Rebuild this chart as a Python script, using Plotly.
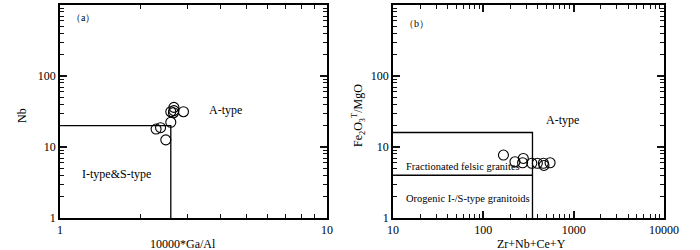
import plotly.graph_objects as go

# Panel (a): 10000*Ga/Al vs Nb
ga_al = [2.29, 2.38, 2.49, 2.60, 2.60, 2.67, 2.67, 2.66, 2.90]
nb = [17.9, 18.7, 12.6, 22.3, 31.4, 36.2, 32.5, 30.4, 31.4]

# Panel (b): Zr+Nb+Ce+Y vs Fe2O3T/MgO
zrnbcey = [167, 224, 277, 272, 344, 396, 462, 469, 548]
fe_mg = [7.7, 6.2, 6.9, 6.0, 5.9, 5.9, 5.9, 5.5, 6.0]

# Field boundaries
a_bound_x = [1, 2.6, 2.6]
a_bound_y = [20, 20, 1]
b_box_x = [10, 350, 350]
b_box_y = [16, 16, 1]
b_mid_x = [10, 350]
b_mid_y = [4, 4]

# Tick values
a_xticks = [1, 10]
ab_yticks = [1, 10, 100, 1000]
b_xticks = [10, 100, 1000, 10000]


def minors(lo_exp, hi_exp):
    return [m * 10 ** e for e in range(lo_exp, hi_exp) for m in range(2, 10)]


FONT = "Liberation Serif, Times New Roman, serif"
W, H = 700, 250
fig = go.Figure()

mk = dict(symbol="circle-open", size=10, color="black", line=dict(width=1.1))
lw = dict(color="black", width=1.3)
fig.add_trace(go.Scatter(x=a_bound_x, y=a_bound_y, mode="lines", line=lw, xaxis="x", yaxis="y", showlegend=False))
fig.add_trace(go.Scatter(x=ga_al, y=nb, mode="markers", marker=mk, xaxis="x", yaxis="y", showlegend=False))
fig.add_trace(go.Scatter(x=b_box_x, y=b_box_y, mode="lines", line=lw, xaxis="x2", yaxis="y2", showlegend=False))
fig.add_trace(go.Scatter(x=b_mid_x, y=b_mid_y, mode="lines", line=lw, xaxis="x2", yaxis="y2", showlegend=False))
fig.add_trace(go.Scatter(x=zrnbcey, y=fe_mg, mode="markers", marker=mk, xaxis="x2", yaxis="y2", showlegend=False))


def axis(rng, ticks, minor_vals, domain, anchor=None):
    d = dict(type="log", automargin=False, showgrid=False, zeroline=False, showline=True,
             linecolor="black", linewidth=1.5, mirror="ticks", ticks="inside", ticklen=7,
             tickwidth=1.5, tickcolor="#111111",
             tickfont=dict(family=FONT, size=12, color="black"),
             range=rng, tickmode="array", tickvals=ticks, ticktext=[str(t) for t in ticks],
             minor=dict(ticks="inside", ticklen=4, tickwidth=1.3, tickcolor="#111111", tickmode="array",
                        tickvals=minor_vals, showgrid=False),
             domain=domain)
    if anchor:
        d["anchor"] = anchor
    return d


yd = [1 - 218 / H, 1 - 5 / H]
fig.update_layout(
    width=W, height=H, margin=dict(l=0, r=0, t=0, b=0),
    paper_bgcolor="white", plot_bgcolor="white",
    font=dict(family=FONT, color="black"),
    xaxis=axis([0, 1], a_xticks, minors(0, 1), [60 / W, 327 / W]),
    yaxis=axis([0, 3], ab_yticks, minors(0, 3), yd),
    xaxis2=axis([1, 4], b_xticks, minors(1, 4), [393 / W, 664 / W], "y2"),
    yaxis2=axis([0, 3], ab_yticks, minors(0, 3), yd, "x2"),
)


def ann(text, x, y, ref, size=11, xanchor="left", angle=0):
    if ref == "paper":
        xr, yr = "paper", "paper"
    else:
        xr, yr = ref[0] + " domain", ref[1] + " domain"
    fig.add_annotation(text=text, x=x, y=y, xref=xr, yref=yr, textangle=angle,
                       showarrow=False, xanchor=xanchor, yanchor="middle",
                       font=dict(family=FONT, size=size, color="black"))


# Axis titles
ann("10000*Ga/Al", 183 / W, 1 - 244 / H, "paper", 12, "center")
ann("Nb", 22 / W, 1 - 116 / H, "paper", 12, "center", -90)
ann("Zr+Nb+Ce+Y", 531 / W, 1 - 244 / H, "paper", 12, "center")
ann("Fe<sub>2</sub>O<sub>3</sub><sup>T</sup>/MgO", 359 / W, 1 - 116 / H, "paper", 12, "center", -90)

# Panel labels and field names
ann("（a）", 0.035, (218 - 17) / 213, ("x", "y"), 10)
ann("A-type", (207 - 60) / 267, (218 - 110) / 213, ("x", "y"), 12)
ann("I-type&S-type", (80 - 60) / 267, (218 - 174) / 213, ("x", "y"), 12)
ann("（b）", 0.033, (218 - 23) / 213, ("x2", "y2"), 10)
ann("A-type", (544 - 393) / 271, (218 - 120) / 213, ("x2", "y2"), 12)
ann("Fractionated felsic granites", (404 - 393) / 271, (218 - 166) / 213, ("x2", "y2"), 10.5)
ann("Orogenic I-/S-type granitoids", (404 - 393) / 271, (218 - 198) / 213, ("x2", "y2"), 10.5)

fig.write_html("out.html", config={"displayModeBar": False},
               post_script="document.body.style.margin='0px';")
